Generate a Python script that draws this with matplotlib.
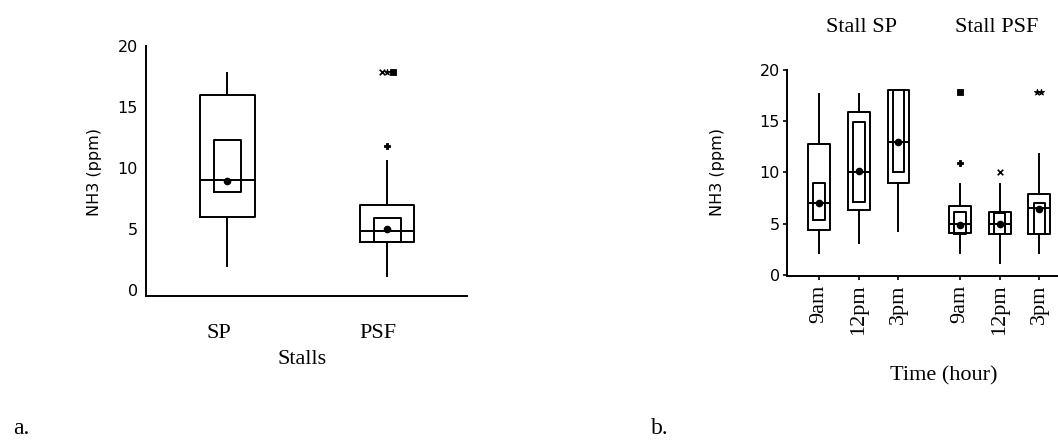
import numpy as np
import matplotlib
matplotlib.use('Agg')
import matplotlib.pyplot as plt
import matplotlib.transforms as mtransforms

# panel a: NH3 by stall
stalls = ['SP', 'PSF']
a_q1 = [6.0, 3.9]
a_med = [9.0, 4.8]
a_q3 = [16.0, 7.0]
a_whislo = [2.0, 1.15]
a_whishi = [17.8, 10.6]
a_mean = [8.9, 5.0]
a_ci_lo = [8.0, 3.9]
a_ci_hi = [12.3, 5.9]
a_fliers = [[], [11.8, 17.9, 17.9, 17.9]]
a_flier_marks = [[], ['P', 'x', '*', 's']]

# panel b: NH3 by stall and time of day
times = ['9am', '12pm', '3pm', '9am', '12pm', '3pm']
b_q1 = [4.4, 6.3, 9.0, 4.1, 4.0, 4.0]
b_med = [7.0, 10.0, 13.0, 5.0, 5.0, 6.5]
b_q3 = [12.8, 15.9, 18.0, 6.7, 6.1, 7.9]
b_whislo = [2.1, 3.1, 4.3, 2.1, 1.2, 2.1]
b_whishi = [17.7, 17.7, 18.0, 8.9, 8.9, 11.8]
b_mean = [7.0, 10.1, 13.0, 4.9, 5.0, 6.4]
b_ci_lo = [5.4, 7.1, 10.0, 4.0, 4.0, 4.0]
b_ci_hi = [9.0, 14.9, 18.0, 6.1, 6.0, 7.0]
b_fliers = [[], [], [], [10.9, 17.9], [10.0], [17.9, 17.9]]
b_flier_marks = [[], [], [], ['P', 's'], ['x'], ['*', '*']]

serif = 'Liberation Serif'
sans = 'DejaVu Sans'
lw = 1.4
sans_size = 11.5


def stats(q1, med, q3, lo, hi, mean):
    return [dict(q1=q1[i], med=med[i], q3=q3[i], whislo=lo[i], whishi=hi[i],
                 mean=mean[i], fliers=[]) for i in range(len(q1))]


def draw(ax, pos, st, inner, w_out, w_in):
    line = dict(color='black', linewidth=lw)
    ax.bxp(st, positions=pos, widths=w_out, showcaps=False, showfliers=False,
           showmeans=True, boxprops=line, whiskerprops=line, medianprops=line,
           meanprops=dict(marker='o', markerfacecolor='black',
                          markeredgecolor='black', markersize=4.5))
    ax.bxp(inner, positions=pos, widths=w_in, showcaps=False, showfliers=False,
           boxprops=line, whiskerprops=dict(linewidth=0),
           medianprops=dict(linewidth=0), manage_ticks=False)


def draw_fliers(ax, pos, fliers, marks, spread):
    for p, vals, mk in zip(pos, fliers, marks):
        n = len(vals)
        for j, (v, m) in enumerate(zip(vals, mk)):
            dx = 0
            # points sharing a value sit side by side
            same = [k for k in range(n) if vals[k] == v]
            if len(same) > 1:
                dx = (same.index(j) - (len(same) - 1) / 2) * spread
            ax.scatter(p + dx, v, marker=m, s=22 if m != 'x' else 16,
                       color='black', linewidths=1.2 if m == 'x' else 0.6,
                       zorder=3)


fig = plt.figure(figsize=(10.58, 4.41), dpi=100)

# ---- panel a
ax1 = fig.add_axes([146/1058, 1-296/441, 321/1058, 250/441])
pos_a = [1, 2]
draw(ax1, pos_a, stats(a_q1, a_med, a_q3, a_whislo, a_whishi, a_mean),
     stats(a_ci_lo, a_ci_lo, a_ci_hi, a_ci_lo, a_ci_hi, a_ci_lo), 0.34, 0.17)
draw_fliers(ax1, pos_a, a_fliers, a_flier_marks, 0.035)
ax1.set_xlim(0.49, 2.5)
ax1.set_ylim(-0.5, 20)
ax1.set_yticks([0, 5, 10, 15, 20])
ax1.set_xticks(pos_a)
ax1.set_xticklabels(stalls, fontfamily=serif, fontsize=16)
ax1.tick_params(axis='x', length=0, pad=20)
ax1.tick_params(axis='y', length=0, pad=6, labelsize=sans_size)
for lab in ax1.get_yticklabels():
    lab.set_fontfamily(sans)
off = mtransforms.ScaledTranslation(-0.09, 0, fig.dpi_scale_trans)
for lab in ax1.get_xticklabels():
    lab.set_transform(lab.get_transform() + off)
ax1.set_xlabel('Stalls', fontfamily=serif, fontsize=16)
ax1.xaxis.set_label_coords(0.486, -0.215)
ax1.set_ylabel('NH3 (ppm)', fontfamily=sans, fontsize=sans_size)
ax1.yaxis.set_label_coords(-0.159, 0.496)
ax1.yaxis.label.set_va('center')
for s in ['top', 'right']:
    ax1.spines[s].set_visible(False)
for s in ['left', 'bottom']:
    ax1.spines[s].set_linewidth(lw)

# ---- panel b
ax2 = fig.add_axes([787/1058, 1-276/441, 290/1058, 206/441])
pos_b = [1, 2, 3, 4.55, 5.55, 6.55]
draw(ax2, pos_b, stats(b_q1, b_med, b_q3, b_whislo, b_whishi, b_mean),
     stats(b_ci_lo, b_ci_lo, b_ci_hi, b_ci_lo, b_ci_hi, b_ci_lo), 0.55, 0.29)
draw_fliers(ax2, pos_b, b_fliers, b_flier_marks, 0.11)
ax2.set_xlim(0.19, 7.5)
ax2.set_ylim(-0.1, 20)
ax2.set_yticks([0, 5, 10, 15, 20])
ax2.set_xticks(pos_b)
ax2.set_xticklabels(times, fontfamily=serif, fontsize=16, rotation=90)
ax2.tick_params(axis='both', length=3, width=1.2, direction='out')
ax2.tick_params(axis='x', pad=3)
ax2.tick_params(axis='y', pad=2, labelsize=sans_size)
for lab in ax2.get_yticklabels():
    lab.set_fontfamily(sans)
ax2.set_xlabel('Time (hour)', fontfamily=serif, fontsize=16)
ax2.xaxis.set_label_coords(0.541, -0.44)
ax2.set_ylabel('NH3 (ppm)', fontfamily=sans, fontsize=sans_size)
ax2.yaxis.set_label_coords(-0.238, 0.505)
ax2.yaxis.label.set_va('center')
for s in ['top', 'right']:
    ax2.spines[s].set_visible(False)
for s in ['left', 'bottom']:
    ax2.spines[s].set_linewidth(lw)

fig.text(862/1058, 1-27/441, 'Stall SP', fontfamily=serif, fontsize=16,
         ha='center', va='center')
fig.text(997/1058, 1-27/441, 'Stall PSF', fontfamily=serif, fontsize=16,
         ha='center', va='center')
fig.text(13/1058, 1-428/441, 'a.', fontfamily=serif, fontsize=17,
         ha='left', va='center')
fig.text(651/1058, 1-428/441, 'b.', fontfamily=serif, fontsize=17,
         ha='left', va='center')

fig.savefig('out.png', dpi=100)
